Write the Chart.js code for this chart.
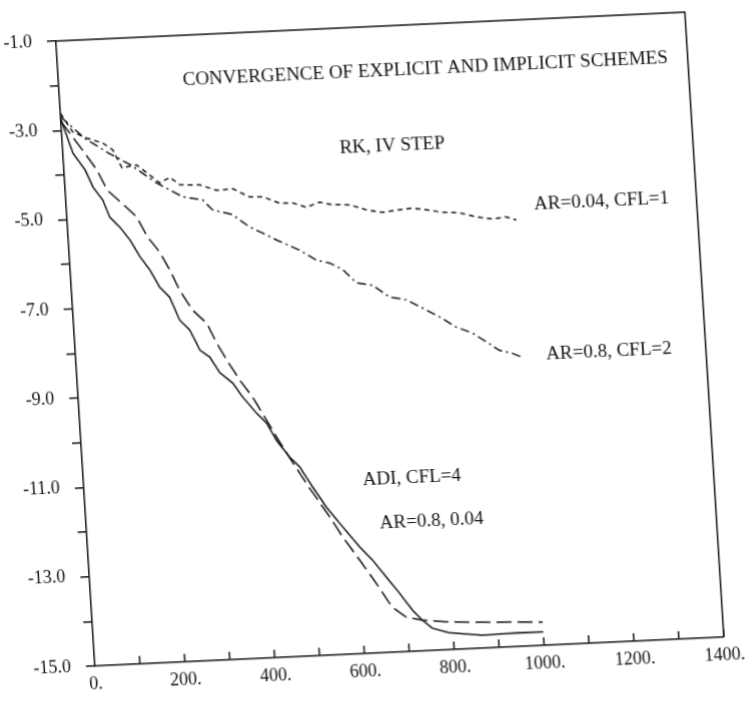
<!DOCTYPE html>
<html>
<head>
<meta charset="utf-8">
<script src="https://cdn.jsdelivr.net/npm/chart.js@4/dist/chart.umd.min.js"></script>
<style>
  html, body { margin: 0; padding: 0; background: #fff; }
  #wrap { width: 751px; height: 704px; overflow: hidden; position: relative; }
  /* the scan is slightly tilted and skewed */
  #chart { position: absolute; left: 0; top: 0; transform-origin: 0 0; transform: matrix(1, -0.046, 0.0624, 1, -41.6, 4.4); }
</style>
</head>
<body>
<div id="wrap"><canvas id="chart" width="751" height="704"></canvas></div>
<script>
// RK, AR=0.04, CFL=1 (short dashes)
const rk1X = [0, 25, 55, 90, 111, 129, 162, 184, 211, 234, 255, 299, 336, 372, 408, 437, 474, 503, 533, 563, 591, 629, 666, 701, 739, 768, 799, 834, 872, 909, 944, 975, 997];
const rk1Y = [-2.62, -3.05, -3.2, -3.33, -3.49, -3.9, -3.85, -4.04, -4.28, -4.16, -4.34, -4.36, -4.5, -4.48, -4.68, -4.69, -4.85, -4.86, -4.97, -4.87, -4.94, -4.96, -5.09, -5.16, -5.12, -5.1, -5.15, -5.22, -5.25, -5.36, -5.42, -5.39, -5.47];

// RK, AR=0.8, CFL=2 (dash-dot)
const rk2X = [0, 25, 50, 100, 150, 200, 260, 304, 324, 368, 404, 432, 462, 512, 548, 577, 605, 634, 669, 705, 742, 777, 813, 849, 884, 914, 941, 969, 993];
const rk2Y = [-2.7, -2.95, -3.2, -3.55, -3.85, -4.25, -4.61, -4.7, -4.93, -5.06, -5.35, -5.5, -5.67, -5.92, -6.16, -6.24, -6.4, -6.71, -6.78, -7.06, -7.14, -7.34, -7.55, -7.8, -7.95, -8.16, -8.36, -8.44, -8.55];

// ADI, CFL=4 solid
const adiSolidX = [0, 22, 47, 62, 82, 95, 116, 137, 157, 177, 196, 217, 236, 257, 277, 298, 318, 345, 365, 394, 415, 434, 461, 482, 508, 536, 569, 604, 631, 659, 686, 713, 733, 754, 791, 864, 940, 1000];
const adiSolidY = [-2.75, -3.52, -3.91, -4.3, -4.6, -4.99, -5.22, -5.52, -5.91, -6.21, -6.6, -6.84, -7.36, -7.59, -8.05, -8.22, -8.58, -8.82, -9.14, -9.52, -9.75, -10.14, -10.53, -10.76, -11.22, -11.69, -12.14, -12.61, -12.92, -13.31, -13.68, -14.08, -14.31, -14.5, -14.62, -14.71, -14.69, -14.7];

// ADI, CFL=4 long dashes
const adiDashX = [0, 39, 73, 93, 124, 155, 176, 201, 221, 240, 266, 296, 315, 335, 361, 387, 415, 435, 455, 497, 542, 568, 602, 636, 668, 698, 733, 793, 866, 941, 1000];
const adiDashY = [-2.8, -3.39, -3.92, -4.38, -4.69, -5.01, -5.47, -5.82, -6.23, -6.69, -7.15, -7.46, -7.91, -8.3, -8.76, -9.15, -9.68, -10.07, -10.44, -11.18, -11.91, -12.37, -12.9, -13.44, -13.99, -14.23, -14.31, -14.38, -14.42, -14.45, -14.48];

const labelTexts = ['CONVERGENCE OF EXPLICIT AND IMPLICIT SCHEMES', 'RK, IV STEP', 'AR=0.04, CFL=1', 'AR=0.8, CFL=2', 'ADI, CFL=4', 'AR=0.8, 0.04'];
const labelX = [276, 615, 1039, 1045, 620, 652];
const labelY = [-2.0, -3.68, -5.15, -8.51, -11.12, -12.1];

const serif = '"Liberation Serif", "Times New Roman", serif';

function pts(xs, ys) {
    return xs.map((x, i) => ({ x: x, y: ys[i] }));
}

function line(data, dash) {
    return {
        data: data,
        borderColor: '#111',
        borderWidth: 1.5,
        borderDash: dash,
        pointRadius: 0,
        fill: false,
        tension: 0
    };
}

// frame, inward x ticks and the text labels
const extras = {
    id: 'extras',
    afterDraw(chart) {
        const c = chart.ctx;
        const a = chart.chartArea;
        const xs = chart.scales.x;
        const ys = chart.scales.y;
        c.save();
        c.strokeStyle = '#111';
        c.lineWidth = 1.5;
        c.beginPath();
        c.moveTo(a.left, a.top);
        c.lineTo(a.right, a.top);
        c.lineTo(a.right, a.bottom);
        c.stroke();
        c.beginPath();
        for (let v = 100; v <= 1400; v += 100) {
            const px = xs.getPixelForValue(v);
            c.moveTo(px, a.bottom);
            c.lineTo(px, a.bottom - 8);
        }
        c.stroke();
        c.fillStyle = '#111';
        c.font = '19px ' + serif;
        c.textAlign = 'left';
        c.textBaseline = 'middle';
        labelTexts.forEach((t, i) => {
            c.fillText(t, xs.getPixelForValue(labelX[i]), ys.getPixelForValue(labelY[i]));
        });
        c.restore();
    }
};

new Chart(document.getElementById('chart'), {
    type: 'line',
    data: {
        datasets: [
            line(pts(rk1X, rk1Y), [5, 4]),
            line(pts(rk2X, rk2Y), [9, 4, 2, 4]),
            line(pts(adiSolidX, adiSolidY), []),
            line(pts(adiDashX, adiDashY), [15, 6])
        ]
    },
    options: {
        responsive: false,
        animation: false,
        devicePixelRatio: 1,
        layout: { padding: { left: 0, right: 26, top: 41, bottom: 0 } },
        plugins: { legend: { display: false }, tooltip: { enabled: false } },
        scales: {
            x: {
                type: 'linear',
                min: 0,
                max: 1400,
                afterFit: s => { s.height = 38; },
                border: { display: true, color: '#111', width: 1.5 },
                grid: { drawOnChartArea: false, drawTicks: false },
                ticks: {
                    stepSize: 100,
                    autoSkip: false,
                    maxRotation: 0,
                    padding: 7,
                    color: '#111',
                    font: { family: serif, size: 18 },
                    callback: v => (v % 200 === 0 ? v + '.' : '')
                }
            },
            y: {
                type: 'linear',
                min: -15,
                max: -1,
                afterFit: s => { s.width = 95; },
                border: { display: true, color: '#111', width: 1.5 },
                grid: { drawOnChartArea: false, drawTicks: true, tickLength: 9, color: '#111', lineWidth: 1.5 },
                ticks: {
                    stepSize: 1,
                    autoSkip: false,
                    padding: 15,
                    color: '#111',
                    font: { family: serif, size: 18 },
                    callback: v => (Math.abs(v) % 2 === 1 ? v.toFixed(1) : '')
                }
            }
        }
    },
    plugins: [extras]
});
</script>
</body>
</html>
